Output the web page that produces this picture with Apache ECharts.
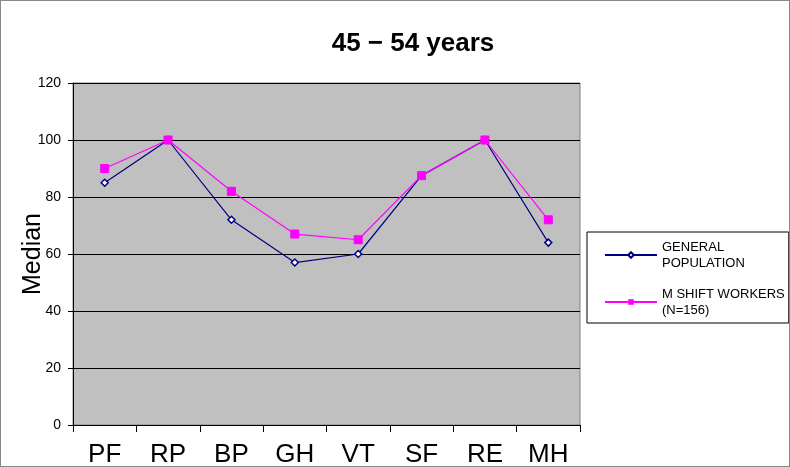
<!DOCTYPE html>
<html><head><meta charset="utf-8">
<script src="https://cdn.jsdelivr.net/npm/echarts@6/dist/echarts.min.js"></script>
<style>html,body{margin:0;padding:0;background:#fff}#c{width:788px;height:465px;border:1px solid #888;}</style>
</head><body><div id="c"></div>
<script>
var categories = ['PF','RP','BP','GH','VT','SF','RE','MH'];
var generalPopulation = [85,100,72,57,60,87.5,100,64];
var shiftWorkers = [90,100,82,67,65,87.5,100,72];
var yTicks = [0,20,40,60,80,100,120];

var chart = echarts.init(document.getElementById('c'));
chart.setOption({
  animation:false,
  backgroundColor:'#fff',
  title:{text:'45 \u2212 54 years',left:407,top:25,textAlign:'center',
    textStyle:{fontFamily:'Liberation Sans',fontSize:26,fontWeight:'bold',color:'#000'}},
  legend:{orient:'vertical',left:586,top:231,
    padding:[7,4,5,17],itemGap:15,borderColor:'#000',borderWidth:1,
    itemWidth:52,itemHeight:7,
    textStyle:{fontFamily:'Liberation Sans',fontSize:13,color:'#000',lineHeight:16},
    data:[{name:'GENERAL\nPOPULATION'},{name:'M SHIFT WORKERS\n(N=156)'}]},
  grid:{left:72,right:209,top:82,bottom:41,containLabel:false,outerBoundsMode:'none',
    show:true,backgroundColor:'#c0c0c0',borderColor:'#808080',borderWidth:1},
  xAxis:{type:'category',data:categories,boundaryGap:true,
    axisLine:{lineStyle:{color:'#000'}},
    axisTick:{show:true,length:7,lineStyle:{color:'#000'},alignWithLabel:false},
    axisLabel:{fontFamily:'Liberation Sans',fontSize:26,color:'#000',margin:17,lineHeight:26}},
  yAxis:{type:'value',min:yTicks[0],max:yTicks[yTicks.length-1],interval:20,
    name:'Median',nameLocation:'middle',nameGap:27,nameRotate:90,nameMoveOverlap:false,
    nameTextStyle:{fontFamily:'Liberation Sans',fontSize:25,color:'#000'},
    axisLine:{show:true,lineStyle:{color:'#000'}},
    axisTick:{show:true,length:5,lineStyle:{color:'#000'}},
    axisLabel:{fontFamily:'Liberation Sans',fontSize:14,color:'#000',margin:12},
    splitLine:{show:true,lineStyle:{color:'#000',width:1}}},
  series:[
    {name:'GENERAL\nPOPULATION',type:'line',data:generalPopulation,
      symbol:'diamond',symbolSize:7,
      lineStyle:{color:'#000080',width:1.2},
      itemStyle:{color:'#fff',borderColor:'#000080',borderWidth:1.5}},
    {name:'M SHIFT WORKERS\n(N=156)',type:'line',data:shiftWorkers,
      symbol:'rect',symbolSize:8,
      lineStyle:{color:'#ff00ff',width:1.2},
      itemStyle:{color:'#ff00ff',borderColor:'#ff00ff'}}
  ]
});
</script></body></html>
